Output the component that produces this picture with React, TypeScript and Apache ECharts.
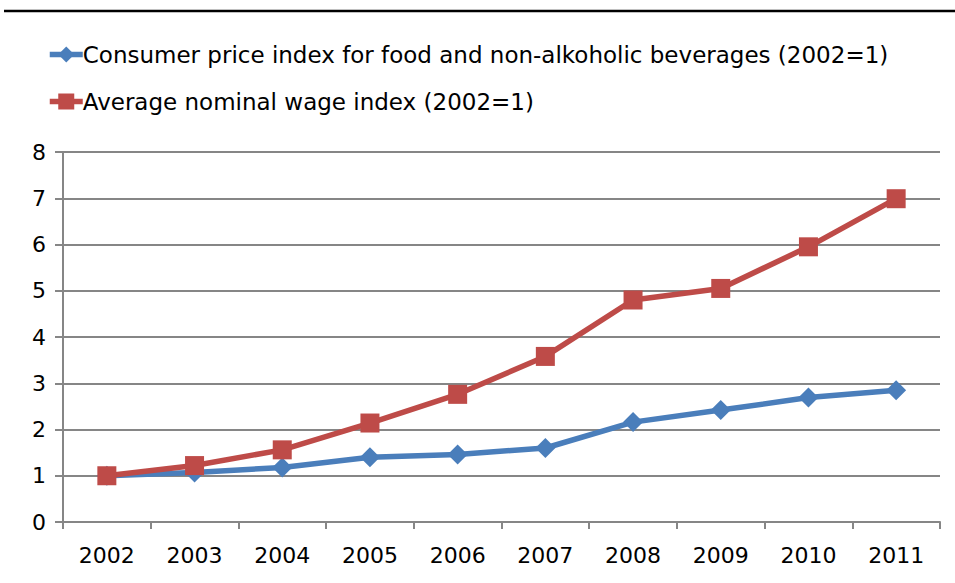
import React, { useEffect, useRef } from "react";
import * as echarts from "echarts";

const years = ["2002", "2003", "2004", "2005", "2006", "2007", "2008", "2009", "2010", "2011"];
const cpiFood = [1.0, 1.07, 1.18, 1.4, 1.46, 1.6, 2.16, 2.42, 2.69, 2.85];
const wageIndex = [1.0, 1.22, 1.56, 2.14, 2.76, 3.58, 4.8, 5.05, 5.95, 6.99];
const seriesNames = [
  "Consumer price index for food and non-alkoholic beverages (2002=1)",
  "Average nominal wage index (2002=1)",
];

const FONT = "DejaVu Sans";

export default function App() {
  const ref = useRef<HTMLDivElement>(null);
  useEffect(() => {
    if (!ref.current) return;
    const chart = echarts.init(ref.current, null, { renderer: "svg" });
    chart.setOption({
      animation: false,
      backgroundColor: "#ffffff",
      textStyle: { fontFamily: FONT },
      graphic: [
        {
          type: "line",
          shape: { x1: 4, y1: 11, x2: 955, y2: 11 },
          style: { stroke: "#000000", lineWidth: 2.5 },
        },
      ],
      legend: {
        orient: "vertical",
        left: 47,
        top: 43,
        padding: 0,
        itemWidth: 33,
        itemHeight: 20,
        itemGap: 24,
        lineStyle: { width: 5.5 },
        textStyle: { fontFamily: FONT, fontSize: 23, color: "#000000", padding: [0, 0, 0, -5] },
        data: seriesNames,
      },
      grid: { left: 63, right: 15, top: 152, bottom: 61, containLabel: false },
      xAxis: {
        type: "category",
        data: years,
        boundaryGap: true,
        axisLine: { lineStyle: { color: "#868686", width: 2 } },
        axisTick: { show: true, length: 7, lineStyle: { color: "#868686", width: 2 }, alignWithLabel: false },
        axisLabel: { fontFamily: FONT, fontSize: 22, color: "#000000", margin: 22 },
        splitLine: { show: false },
      },
      yAxis: {
        type: "value",
        min: 0,
        max: 8,
        interval: 1,
        axisLine: { show: true, lineStyle: { color: "#868686", width: 2 } },
        axisTick: { show: true, length: 8, lineStyle: { color: "#868686", width: 2 } },
        axisLabel: { fontFamily: FONT, fontSize: 22, color: "#000000", margin: 17 },
        splitLine: { show: true, lineStyle: { color: "#868686", width: 2 } },
      },
      series: [
        {
          name: seriesNames[0],
          type: "line",
          data: cpiFood,
          symbol: "diamond",
          symbolSize: 20,
          itemStyle: { color: "#4A7EBB" },
          lineStyle: { color: "#4A7EBB", width: 5.5 },
          z: 2,
        },
        {
          name: seriesNames[1],
          type: "line",
          data: wageIndex,
          symbol: "rect",
          symbolSize: 19,
          itemStyle: { color: "#BE4B48" },
          lineStyle: { color: "#BE4B48", width: 5.5 },
          z: 3,
        },
      ],
    });
    return () => chart.dispose();
  }, []);
  return (
    <div
      ref={ref}
      style={{ position: "fixed", left: 0, top: 0, width: 955, height: 583 }}
    />
  );
}
